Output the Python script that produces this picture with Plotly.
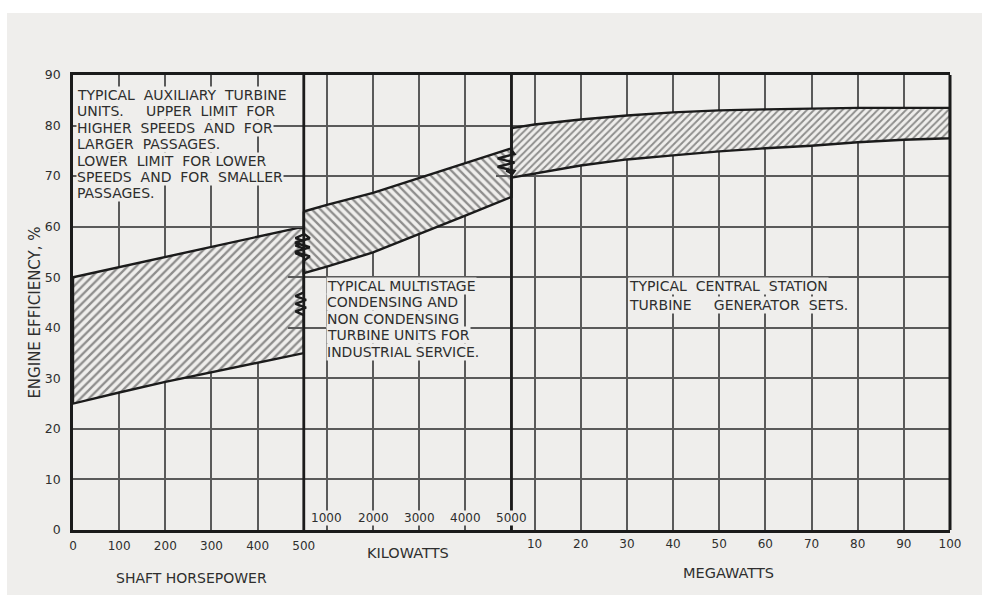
import plotly.graph_objects as go

# ---- data -------------------------------------------------------------
# Auxiliary turbine units, shaft horsepower section
hp = [0, 100, 200, 300, 400, 500]
aux_upper = [50.0, 52.0, 54.0, 56.0, 58.0, 60.0]
aux_lower = [25.0, 27.2, 29.3, 31.2, 33.1, 35.0]

# Multistage industrial units, kilowatt section
kw = [500, 1000, 2000, 3000, 4000, 5000]
ind_upper = [63.0, 64.3, 66.7, 69.6, 72.5, 75.5]
ind_lower = [50.8, 52.1, 54.9, 58.6, 62.2, 65.9]

# Central station turbine generator sets, megawatt section
mw = [5, 10, 20, 30, 40, 50, 60, 70, 80, 90, 100]
cs_upper = [79.5, 80.2, 81.2, 82.0, 82.6, 83.0, 83.2, 83.4, 83.5, 83.5, 83.5]
cs_lower = [69.7, 70.6, 72.1, 73.3, 74.1, 74.9, 75.5, 76.0, 76.7, 77.2, 77.5]

hp_ticks = [0, 100, 200, 300, 400, 500]
kw_ticks = [1000, 2000, 3000, 4000, 5000]
mw_ticks = [10, 20, 30, 40, 50, 60, 70, 80, 90, 100]
eff_ticks = [0, 10, 20, 30, 40, 50, 60, 70, 80, 90]

NB = "\u00a0"
aux_note = [
    f"TYPICAL{NB} AUXILIARY{NB} TURBINE",
    f"UNITS.{NB*4} UPPER{NB} LIMIT{NB} FOR",
    f"HIGHER{NB} SPEEDS{NB} AND{NB} FOR",
    f"LARGER{NB} PASSAGES.",
    f"LOWER{NB} LIMIT{NB} FOR LOWER",
    f"SPEEDS{NB} AND{NB} FOR{NB} SMALLER",
    "PASSAGES.",
]
ind_note = [
    "TYPICAL MULTISTAGE",
    "CONDENSING AND",
    "NON CONDENSING",
    "TURBINE UNITS FOR",
    "INDUSTRIAL SERVICE.",
]
cs_note = [
    f"TYPICAL{NB} CENTRAL{NB} STATION",
    f"TURBINE{NB*4} GENERATOR{NB} SETS.",
]

# ---- style ------------------------------------------------------------
W, H = 982, 595
M = dict(l=73, r=32, t=75, b=65)
PW = W - M["l"] - M["r"]
PH = H - M["t"] - M["b"]
BG = "#efeeec"
INK = "#1b1b1b"
GRID = "#5a5a5a"
TXT = "#2e2e2e"
FONT = "DejaVu Sans"

PAD = 16 / PW  # overlap between neighbouring sections so break marks are not cut


def padded(dom, rng, left, right):
    d0, d1 = dom
    r0, r1 = rng
    k = (r1 - r0) / (d1 - d0)
    if left:
        d0, r0 = d0 - PAD, r0 - PAD * k
    if right:
        d1, r1 = d1 + PAD, r1 + PAD * k
    return [d0, d1], [r0, r1]


hp_dom, hp_rng = padded([0, 5 / 19], [0, 500], False, True)
kw_dom, kw_rng = padded([5 / 19, 9.5 / 19], [500, 5000], True, True)
mw_dom, mw_rng = padded([9.5 / 19, 1], [5, 100], True, False)


def break_edge(x0, y_start, y_end, spans=(), d_in=0.0, d_out=0.0, teeth=3):
    """Vertical edge at x0 with saw-tooth break marks over fractional spans."""
    xs, ys = [x0], [y_start]
    for f0, f1 in spans:
        ya = y_start + (y_end - y_start) * f0
        yb = y_start + (y_end - y_start) * f1
        xs.append(x0)
        ys.append(ya)
        n = 2 * teeth
        for k in range(1, n):
            xs.append(x0 + (d_in if k % 2 else d_out))
            ys.append(ya + (yb - ya) * k / n)
        xs.append(x0)
        ys.append(yb)
    xs.append(x0)
    ys.append(y_end)
    return xs, ys


def band(x, upper, lower, right=None, left=None):
    xs, ys = list(x), list(upper)
    ex, ey = break_edge(x[-1], upper[-1], lower[-1], *(right or ()))
    xs += ex
    ys += ey
    xs += list(x[::-1])
    ys += list(lower[::-1])
    ex, ey = break_edge(x[0], lower[0], upper[0], *(left or ()))
    xs += ex
    ys += ey
    return xs, ys


def hatch(shape, size):
    return dict(shape=shape, size=size, solidity=0.38, fgcolor="#2c2c2c", bgcolor=BG)


fig = go.Figure()

x1, y1 = band(hp, aux_upper, aux_lower,
              right=([(0.06, 0.24), (0.52, 0.70)], -18, 5))
fig.add_trace(go.Scatter(x=x1, y=y1, xaxis="x", yaxis="y", mode="lines",
                         fill="toself", fillpattern=hatch("/", 6),
                         line=dict(color=INK, width=2.4), hoverinfo="skip"))

x2, y2 = band(kw, ind_upper, ind_lower,
              right=([(0.18, 0.52)], -110, 25),
              left=([(0.2, 0.64)], 130, -190))
fig.add_trace(go.Scatter(x=x2, y=y2, xaxis="x2", yaxis="y", mode="lines",
                         fill="toself", fillpattern=hatch("\\", 6),
                         line=dict(color=INK, width=2.4), hoverinfo="skip"))

x3, y3 = band(mw, cs_upper, cs_lower,
              left=([(0.05, 0.56)], 0.65, -3.0))
fig.add_trace(go.Scatter(x=x3, y=y3, xaxis="x3", yaxis="y", mode="lines",
                         fill="toself", fillpattern=hatch("/", 5),
                         line=dict(color=INK, width=2.4), hoverinfo="skip"))

xcommon = dict(showgrid=True, gridcolor=GRID, gridwidth=1.9, zeroline=False,
               showline=True, linecolor=INK, linewidth=2.5, mirror=True,
               ticks="", anchor="y", fixedrange=True,
               tickfont=dict(family=FONT, size=12, color=TXT))

fig.update_layout(
    width=W, height=H, margin=M, showlegend=False,
    paper_bgcolor="white", plot_bgcolor="rgba(0,0,0,0)",
    font=dict(family=FONT, color=TXT),
    xaxis=dict(domain=hp_dom, range=hp_rng, tickvals=hp_ticks,
               ticklabelstandoff=3, **xcommon),
    xaxis2=dict(domain=kw_dom, range=kw_rng, tickvals=kw_ticks,
                showticklabels=False, **xcommon),
    xaxis3=dict(domain=mw_dom, range=mw_rng, tickvals=mw_ticks,
                ticklabelstandoff=1, **xcommon),
    yaxis=dict(range=[0, 90], tickvals=eff_ticks, showgrid=True,
               gridcolor=GRID, gridwidth=1.9, zeroline=False,
               showline=True, linecolor=INK, linewidth=2.8, ticks="",
               ticklabelstandoff=7, anchor="x", fixedrange=True,
               tickfont=dict(family=FONT, size=12.5, color=TXT)),
)

shapes = [
    # scanned-sheet tone behind everything
    dict(type="rect", xref="paper", yref="paper", layer="below",
         x0=(7 - M["l"]) / PW, x1=(W - M["l"]) / PW,
         y0=-M["b"] / PH, y1=(H - 13 - M["b"]) / PH,
         fillcolor=BG, line=dict(width=0)),
    # heavy section dividers and right border
    dict(type="line", xref="x", yref="y", x0=500, x1=500, y0=0, y1=90,
         line=dict(color=INK, width=2.8)),
    dict(type="line", xref="x2", yref="y", x0=5000, x1=5000, y0=0, y1=90,
         line=dict(color=INK, width=2.8)),
    dict(type="line", xref="paper", yref="paper", x0=1, x1=1, y0=0, y1=1,
         line=dict(color=INK, width=3)),
]
fig.update_layout(shapes=shapes)

ann = []
NOTE_SIZE = 14


def note(lines, xref, x, xshift, top_px, step):
    for i, t in enumerate(lines):
        ann.append(dict(text=t, xref=xref, x=x, xshift=xshift, xanchor="left",
                        yref="y", y=90, yshift=-(top_px + i * step),
                        yanchor="middle", showarrow=False, bgcolor=BG,
                        borderpad=0, font=dict(family=FONT, size=NOTE_SIZE, color=TXT)))


note(aux_note, "x", 0, 3, 20, 16.4)
note(ind_note, "x2", 500, 22, 211, 16.4)
note(cs_note, "x3", 30, 1, 211, 19)

# kilowatt scale is lettered just above the base line
for v in kw_ticks:
    ann.append(dict(text=str(v), xref="x2", x=v, yref="y", y=0, yshift=12,
                    yanchor="middle", showarrow=False, bgcolor=BG, borderpad=0,
                    font=dict(family=FONT, size=12, color=TXT)))

# axis titles
ann += [
    dict(text="SHAFT HORSEPOWER", xref="x", x=250, xshift=3, yref="paper", y=0,
         yshift=-48, yanchor="middle", showarrow=False,
         font=dict(family=FONT, size=14, color=TXT)),
    dict(text="KILOWATTS", xref="x2", x=2750, yref="paper", y=0, yshift=-23,
         yanchor="middle", showarrow=False, font=dict(family=FONT, size=14.5, color=TXT)),
    dict(text="MEGAWATTS", xref="x3", x=52, yref="paper", y=0, yshift=-43,
         yanchor="middle", showarrow=False, font=dict(family=FONT, size=14.5, color=TXT)),
    dict(text="ENGINE EFFICIENCY, %", xref="paper", x=0, xshift=-38, xanchor="center",
         yref="y", y=43, yanchor="middle", textangle=-90, showarrow=False,
         font=dict(family=FONT, size=15, color=TXT)),
]
fig.update_layout(annotations=ann)

fig.write_html("out.html")
